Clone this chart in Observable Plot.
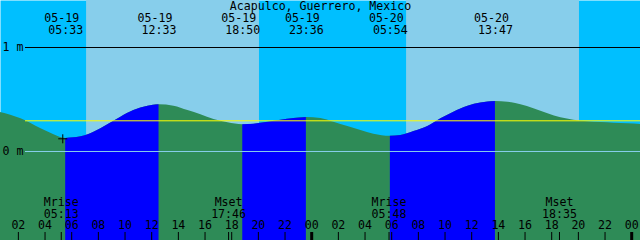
<!DOCTYPE html>
<html><head><meta charset="utf-8">
<script src="https://cdn.jsdelivr.net/npm/d3@7"></script>
<script src="https://cdn.jsdelivr.net/npm/@observablehq/plot@0.6"></script>
<style>
html,body{margin:0;padding:0;background:#fff;}
#chart svg{display:block;}
</style></head><body><div id="chart"></div>
<script>
// ---- data ----
const title = "Acapulco, Guerrero, Mexico";
const firstDate = "05-19";
// hours since 05-19 00:00 and tide height (m)
const tideHours = [0.6, 2.2, 3.7, 4.67, 5.55, 6.7, 7.67, 8.71, 9.69, 10.66, 11.72, 12.55, 13.67, 14.72, 15.69, 16.67, 17.72, 18.83, 19.67, 20.72, 21.69, 22.67, 23.6, 24.69, 25.66, 26.71, 27.69, 28.66, 29.9, 30.69, 31.67, 32.71, 33.69, 34.66, 35.72, 36.69, 37.78, 38.72, 39.69, 40.66, 41.72, 42.69, 43.66, 44.71, 45.69, 46.66, 47.71, 48.75];
const tideHeights = [0.377, 0.314, 0.218, 0.161, 0.126, 0.141, 0.186, 0.257, 0.330, 0.394, 0.436, 0.450, 0.436, 0.394, 0.353, 0.308, 0.276, 0.258, 0.263, 0.282, 0.301, 0.317, 0.327, 0.318, 0.282, 0.240, 0.202, 0.166, 0.146, 0.154, 0.192, 0.240, 0.314, 0.378, 0.436, 0.466, 0.481, 0.474, 0.449, 0.411, 0.363, 0.324, 0.301, 0.286, 0.279, 0.272, 0.266, 0.260];
const extremeDates = ["05-19", "05-19", "05-19", "05-19", "05-20", "05-20"];
const extremeTimes = ["05:33", "12:33", "18:50", "23:36", "05:54", "13:47"];
const extremeKinds = ["low", "high", "low", "high", "low", "high"];
const moonDates = ["05-19", "05-19", "05-20", "05-20"];
const moonEvents = ["Mrise", "Mset", "Mrise", "Mset"];
const moonTimes = ["05:13", "17:46", "05:48", "18:35"];
const sunDates = ["05-19", "05-20"];
const sunriseTimes = ["07:07", "07:07"];
const sunsetTimes = ["20:05", "20:05"];
const hourTicks = [2, 4, 6, 8, 10, 12, 14, 16, 18, 20, 22, 24, 26, 28, 30, 32, 34, 36, 38, 40, 42, 44, 46, 48];
const levelValues = [1, 0];
const levelLabels = ["1 m", "0 m"];
const meanLevel = 0.295;
const nowHour = 5.33;
const nowHeight = 0.122;
const windowStart = 0.66;
const windowHours = 48;
const heightDomain = [-0.856, 1.452];

// ---- styles ----
const W = 640, H = 240;
const nightColor = "#00BFFF", dayColor = "#87CEEB";
const ebbColor = "#2E8B57", floodColor = "#0000FF";
const font = "DejaVu Sans Mono", fs = 11.6;
const gutterPx = 25;

// ---- helpers ----
const dayOffset = d => (+d.split("-")[1] - +firstDate.split("-")[1]) * 24;
const toHours = (d, t) => { const [h, m] = t.split(":").map(Number); return dayOffset(d) + h + m / 60; };
const windowEnd = windowStart + windowHours;
const tide = tideHours.map((t, i) => ({t, h: tideHeights[i]}));
const extremes = extremeTimes.map((t, i) => ({t: toHours(extremeDates[i], t), date: extremeDates[i], time: t, kind: extremeKinds[i]}));
const moon = moonTimes.map((t, i) => ({t: toHours(moonDates[i], t), ev: moonEvents[i], time: t}));
const days = sunDates.map((d, i) => ({x1: toHours(d, sunriseTimes[i]), x2: toHours(d, sunsetTimes[i])}));
const ticks = hourTicks.map(h => ({t: h, label: String(h % 24).padStart(2, "0"), midnight: h % 24 === 0}));
const gutterX = windowStart + gutterPx / W * windowHours;

// rising segments (low -> high) drawn in flood color
const floodSegs = [];
for (let i = 0; i < extremes.length - 1; i++) {
  if (extremes[i].kind === "low" && extremes[i + 1].kind === "high") {
    const a = extremes[i].t - 0.01, b = extremes[i + 1].t + 0.01;
    floodSegs.push(tide.filter(d => d.t >= a && d.t <= b));
  }
}

const yBottom = heightDomain[0], yTop = heightDomain[1];
const plusSymbol = {draw(ctx, size) { const r = Math.sqrt(size / Math.PI); ctx.moveTo(-r, 0); ctx.lineTo(r, 0); ctx.moveTo(0, -r); ctx.lineTo(0, r); }};

const txt = {fontFamily: font, fontSize: fs, fill: "black", lineAnchor: "middle"};

const marks = [
  Plot.frame({fill: nightColor, stroke: null}),
  Plot.rect(days, {x1: "x1", x2: "x2", y1: yBottom, y2: yTop, fill: dayColor}),
  Plot.areaY(tide, {x: "t", y1: yBottom, y2: "h", fill: ebbColor, curve: "monotone-x"}),
  ...floodSegs.map(seg => Plot.areaY(seg, {x: "t", y1: yBottom, y2: "h", fill: floodColor, curve: "monotone-x"})),
  Plot.ruleY([0], {x1: gutterX, x2: windowEnd, stroke: dayColor}),
  Plot.ruleY([meanLevel], {x1: gutterX, x2: windowEnd, stroke: "#FFFF00"}),
  Plot.ruleY([1], {x1: gutterX, x2: windowEnd, stroke: "black"}),
  Plot.dot([{t: nowHour, h: nowHeight}], {x: "t", y: "h", r: 4.5, symbol: plusSymbol, stroke: "black", strokeWidth: 1, fill: "none"}),
  Plot.text([title], {...txt, frameAnchor: "top", dy: 5.5}),
  Plot.text(extremes, {...txt, x: "t", text: "date", frameAnchor: "top", dy: 17.5, dx: -4}),
  Plot.text(extremes, {...txt, x: "t", text: "time", frameAnchor: "top", dy: 29.7}),
  Plot.text(levelValues, {...txt, y: d => d, text: (d, i) => levelLabels[i], frameAnchor: "left", textAnchor: "start", dx: 2, dy: -0.5}),
  Plot.text(moon, {...txt, x: "t", text: "ev", frameAnchor: "bottom", dy: -38.3}),
  Plot.text(moon, {...txt, x: "t", text: "time", frameAnchor: "bottom", dy: -26.7}),
  Plot.text(ticks, {...txt, x: "t", text: "label", frameAnchor: "bottom", dy: -14.8}),
  Plot.ruleX(ticks.filter(d => !d.midnight), {x: "t", insetTop: 232, stroke: "black"}),
  Plot.ruleX(ticks.filter(d => d.midnight), {x: "t", insetTop: 232, stroke: "black", strokeWidth: 3}),
  Plot.ruleX(moon, {x: "t", insetTop: 232, stroke: "black"})
];

const chart = Plot.plot({
  width: W, height: H,
  margin: 0,
  x: {domain: [windowStart, windowEnd], axis: null},
  y: {domain: heightDomain, axis: null},
  style: {background: "transparent"},
  marks
});
document.getElementById("chart").appendChild(chart);
</script></body></html>
